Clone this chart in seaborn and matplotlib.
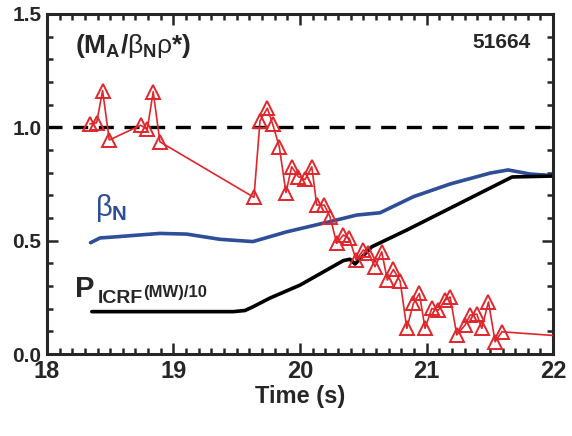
import matplotlib
matplotlib.use("Agg")
import matplotlib.pyplot as plt
from matplotlib.ticker import MultipleLocator
import seaborn as sns
import pandas as pd

# --- data -------------------------------------------------------------
ratio_t = [18.340, 18.393, 18.440, 18.493, 18.741, 18.793, 18.840, 18.893,
           19.636, 19.684, 19.742, 19.784, 19.836, 19.889, 19.934, 19.987,
           20.040, 20.093, 20.132, 20.192, 20.237, 20.290, 20.342, 20.390,
           20.443, 20.501, 20.540, 20.593, 20.646, 20.690, 20.738, 20.791,
           20.844, 20.896, 20.943, 20.988, 21.041, 21.094, 21.146, 21.186,
           21.239, 21.304, 21.344, 21.397, 21.436, 21.489, 21.542, 21.595,
           22.10]
ratio_v = [1.015, 1.020, 1.162, 0.944, 1.009, 0.991, 1.157, 0.936,
           0.691, 1.029, 1.084, 1.014, 0.915, 0.712, 0.826, 0.782,
           0.770, 0.826, 0.657, 0.657, 0.606, 0.488, 0.525, 0.510,
           0.415, 0.459, 0.447, 0.385, 0.451, 0.326, 0.373, 0.322,
           0.113, 0.223, 0.267, 0.113, 0.201, 0.194, 0.238, 0.252,
           0.084, 0.128, 0.172, 0.176, 0.113, 0.230, 0.054, 0.098,
           0.078]

betaN_t = [18.345, 18.42, 18.498, 18.893, 19.104, 19.368, 19.628, 19.895,
           20.237, 20.448, 20.632, 20.896, 21.186, 21.502, 21.644, 21.818, 22.0]
betaN_v = [0.491, 0.512, 0.515, 0.532, 0.529, 0.506, 0.496, 0.539,
           0.584, 0.613, 0.623, 0.694, 0.750, 0.798, 0.812, 0.794, 0.787]

picrf_t = [18.355, 19.473, 19.565, 19.631, 19.763, 20.0, 20.342, 20.395,
           20.435, 20.567, 20.844, 21.676, 22.0]
picrf_v = [0.187, 0.187, 0.192, 0.209, 0.247, 0.304, 0.412, 0.418,
           0.397, 0.473, 0.547, 0.781, 0.785]

ref_level = 1.0
x_ticks = [18, 19, 20, 21, 22]
y_ticks = [0.0, 0.5, 1.0, 1.5]
shot_label = "51664"

# --- style ------------------------------------------------------------
sns.set_style("ticks")
plt.rcParams['font.family'] = ['Liberation Sans Narrow', 'Liberation Sans', 'DejaVu Sans']
plt.rcParams['mathtext.fontset'] = 'custom'
plt.rcParams['mathtext.rm'] = 'Liberation Sans:normal'
plt.rcParams['mathtext.it'] = 'Liberation Sans:normal'
plt.rcParams['mathtext.bf'] = 'Liberation Sans:bold'

RED = "#E0262B"
BLUE = "#2E4E98"

fig = plt.figure(figsize=(5.72, 4.36), dpi=100)
ax = fig.add_axes([0.082, 0.188, 0.885, 0.780])

df_r = pd.DataFrame({"t": ratio_t, "v": ratio_v})
df_b = pd.DataFrame({"t": betaN_t, "v": betaN_v})
df_p = pd.DataFrame({"t": picrf_t, "v": picrf_v})

ax.axhline(ref_level, color="black", lw=2.4, dashes=(4.5, 3.2), zorder=1)
sns.lineplot(data=df_b, x="t", y="v", ax=ax, color=BLUE, lw=2.6, sort=False,
             estimator=None, zorder=2)
sns.lineplot(data=df_p, x="t", y="v", ax=ax, color="black", lw=2.6, sort=False,
             estimator=None, zorder=2)
sns.lineplot(data=df_r, x="t", y="v", ax=ax, color=RED, lw=1.2, sort=False,
             estimator=None, marker="^", markersize=10.5, markerfacecolor="none",
             markeredgecolor=RED, markeredgewidth=1.4, zorder=3)

ax.set_xlim(18, 22)
ax.set_ylim(0, 1.5)
ax.set_xticks(x_ticks)
ax.set_xticklabels([str(t) for t in x_ticks], fontsize=17, fontweight='bold')
ax.set_yticks(y_ticks)
ax.set_yticklabels([f"{t:.1f}" for t in y_ticks], fontsize=15, fontweight='bold')
ax.xaxis.set_minor_locator(MultipleLocator(0.1))
ax.yaxis.set_minor_locator(MultipleLocator(0.1))
ax.tick_params(which='both', direction='in', top=True, right=True, width=1.8)
ax.tick_params(which='major', length=8, pad=4)
ax.tick_params(which='minor', length=4)
for s in ax.spines.values():
    s.set_linewidth(2.2)
ax.set_xlabel("Time (s)", fontsize=17, fontweight='bold', labelpad=2)
ax.set_ylabel("")

ax.text(0.055, 0.905, r"(M$_{\mathbf{A}}$/$\beta_{\mathbf{N}}\rho$*)",
        transform=ax.transAxes, fontsize=19, fontweight='bold', va='center')
ax.text(0.955, 0.915, shot_label, transform=ax.transAxes, fontsize=15,
        fontweight='bold', ha='right', va='center')
ax.text(0.095, 0.43, r"$\beta_{\mathbf{N}}$", transform=ax.transAxes,
        fontsize=21, color=BLUE, va='center')
ax.text(0.055, 0.19, "P", transform=ax.transAxes, fontsize=21,
        fontweight='bold', va='center')
ax.text(0.1, 0.163, "ICRF", transform=ax.transAxes, fontsize=14,
        fontweight='bold', va='center')
ax.text(0.19, 0.18, "(MW)/10", transform=ax.transAxes, fontsize=12,
        fontweight='bold', va='center')

fig.savefig("out.png", dpi=100)
